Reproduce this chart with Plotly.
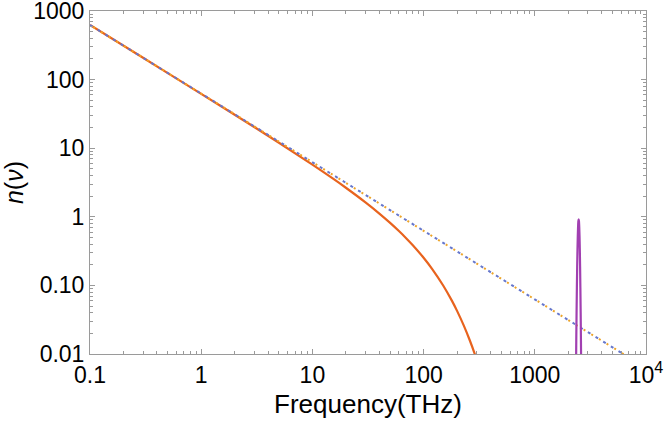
import plotly.graph_objects as go

# Bose-Einstein occupation (solid orange)
freq_be = [0.1, 0.3, 1, 2, 5, 10, 15, 20, 30, 40, 50, 60, 70, 80, 100, 120, 150, 180, 200, 230, 260, 290, 320]
n_be = [624.5, 207.8, 62.0, 30.75, 12.01, 5.763, 3.687, 2.652, 1.623, 1.1155, 0.816, 0.6205,
        0.4843, 0.3851, 0.2530, 0.1718, 0.0998, 0.05947, 0.0425, 0.02587, 0.01586, 0.00976, 0.00601]

# Classical limits (dash-dot lines)
freq_rj = [0.1, 1, 10, 100, 1000, 10000]
n_rj_a = [625, 62.5, 6.25, 0.625, 0.0625, 0.00625]
n_rj_b = [625, 62.5, 6.25, 0.625, 0.0625, 0.00625]

# Narrow peak (purple)
freq_peak = [2330, 2345, 2360, 2375, 2390, 2405, 2420, 2435, 2450, 2465, 2480,
             2495, 2510, 2525, 2540, 2555, 2570, 2585, 2600, 2615, 2630]
n_peak = [0.00156, 0.00525, 0.01553, 0.0404, 0.0927, 0.187, 0.332, 0.518, 0.713, 0.863, 0.92,
          0.863, 0.713, 0.518, 0.332, 0.187, 0.0927, 0.0404, 0.01553, 0.00525, 0.00156]

x_tickvals = [0.1, 1, 10, 100, 1000, 10000]
x_ticktext = ["0.1", "1", "10", "100", "1000", "10<sup>4</sup>"]
y_tickvals = [0.01, 0.1, 1, 10, 100, 1000]
y_ticktext = ["0.01", "0.10", "1", "10", "100", "1000"]

x_minor = [m * 10 ** e for e in range(-1, 4) for m in range(2, 10)]
y_minor = [m * 10 ** e for e in range(-2, 3) for m in range(2, 10)]

FONT = "Liberation Sans, Arial"

fig = go.Figure()
fig.add_trace(go.Scatter(x=freq_be, y=n_be, mode="lines", line=dict(color="#E8631E", width=2.2, shape="spline")))
fig.add_trace(go.Scatter(x=freq_rj, y=n_rj_a, mode="lines",
                         line=dict(color="#EDA52A", width=2, dash="0px,4px,2px,3px")))
fig.add_trace(go.Scatter(x=freq_rj, y=n_rj_b, mode="lines",
                         line=dict(color="#6677CC", width=2, dash="3px,6px")))
fig.add_trace(go.Scatter(x=freq_peak, y=n_peak, mode="lines",
                         line=dict(color="#A13FB1", width=2.2, shape="spline")))

axis_common = dict(
    showline=True, linecolor="#9a9a9a", linewidth=1, mirror="ticks",
    ticks="inside", ticklen=5, tickcolor="#9a9a9a", tickwidth=1,
    showgrid=False, zeroline=False, ticklabeloverflow="allow",
    tickfont=dict(family=FONT, size=23, color="black"),
)

fig.update_xaxes(type="log", range=[-1, 4], tickmode="array", tickvals=x_tickvals, ticktext=x_ticktext,
                 minor=dict(tickmode="array", tickvals=x_minor, ticks="inside", ticklen=3,
                            tickcolor="#9a9a9a", tickwidth=1, showgrid=False),
                 title=dict(text="Frequency(THz)", font=dict(family=FONT, size=26, color="black"),
                            standoff=8),
                 **axis_common)
fig.update_yaxes(type="log", range=[-2, 3], tickmode="array", tickvals=y_tickvals, ticktext=y_ticktext,
                 minor=dict(tickmode="array", tickvals=y_minor, ticks="inside", ticklen=3,
                            tickcolor="#9a9a9a", tickwidth=1, showgrid=False),
                 title=dict(text="<i>n</i>(<i>ν</i>)", font=dict(family=FONT, size=25, color="black"),
                            standoff=2),
                 **axis_common)

fig.update_layout(
    width=664, height=424,
    margin=dict(l=90, r=18, t=11, b=70, autoexpand=False),
    paper_bgcolor="white", plot_bgcolor="white",
    showlegend=False,
)

fig.write_html("out.html", config={"displayModeBar": False},
               post_script="document.body.style.margin='0';document.body.style.overflow='hidden';")
